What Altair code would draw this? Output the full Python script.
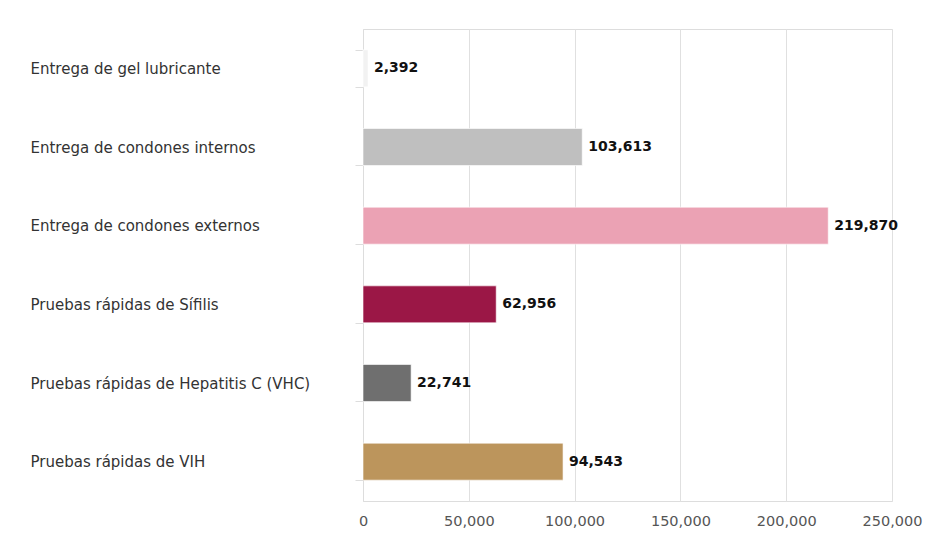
import altair as alt
import pandas as pd

categories = [
    "Entrega de gel lubricante",
    "Entrega de condones internos",
    "Entrega de condones externos",
    "Pruebas rápidas de Sífilis",
    "Pruebas rápidas de Hepatitis C (VHC)",
    "Pruebas rápidas de VIH",
]
values = [2392, 103613, 219870, 62956, 22741, 94543]
colors = ["#F2F2F2", "#BFBFBF", "#EBA2B4", "#9B1746", "#6F6F6F", "#BC955C"]
x_ticks = [0, 50000, 100000, 150000, 200000, 250000]

df = pd.DataFrame({"cat": categories, "val": values, "color": colors})

FONT = "DejaVu Sans"

y_enc = alt.Y(
    "cat:N",
    sort=categories,
    title=None,
    scale=alt.Scale(paddingInner=0.53, paddingOuter=0.265),
    axis=alt.Axis(
        labelAlign="left",
        labelPadding=325,
        labelFontSize=15,
        labelFont=FONT,
        labelColor="#333333",
        tickBand="extent",
        tickSize=8,
        tickColor="#DDDDDD",
        domainColor="#DDDDDD",
        grid=False,
        labelLimit=400,
    ),
)

x_enc = alt.X(
    "val:Q",
    title=None,
    scale=alt.Scale(domain=[0, 250000], nice=False),
    axis=alt.Axis(
        values=x_ticks,
        format=",.0f",
        labelFontSize=14.5,
        labelFont=FONT,
        labelColor="#555555",
        labelPadding=13,
        domain=False,
        ticks=False,
        gridColor="#E0E0E0",
        labelFlush=False,
    ),
)

bars = alt.Chart(df).mark_bar(stroke="#FFFFFF", strokeWidth=1, strokeOpacity=0.6).encode(
    x=x_enc,
    y=y_enc,
    color=alt.Color("color:N", scale=None),
)

text = alt.Chart(df).mark_text(
    align="left", baseline="middle", dx=6, font=FONT, fontSize=14, fontWeight="bold", color="#111111"
).encode(
    x=x_enc,
    y=y_enc,
    text=alt.Text("val:Q", format=",.0f"),
)

chart = (
    alt.layer(bars, text)
    .properties(
        width=529,
        height=472,
        autosize=alt.AutoSizeParams(type="none"),
        padding={"left": 355, "top": 21, "right": 32, "bottom": 40},
    )
    .configure_view(stroke=None)
    .configure(background="#FFFFFF")
)

chart.save("out.html", embed_options={"renderer": "svg", "actions": False})
